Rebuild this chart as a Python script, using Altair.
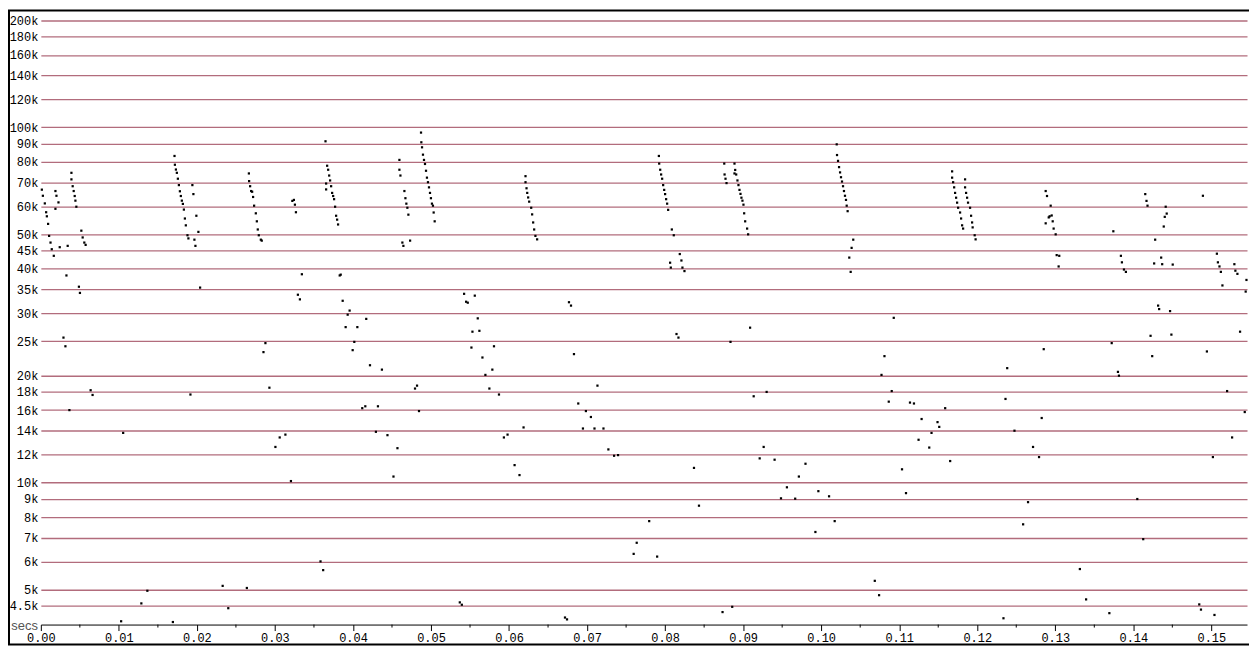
import altair as alt
import pandas as pd

# ---- data (seconds, Hz) ----
secs_0 = [0.00013, 0.00026, 0.00051, 0.00068, 0.00077, 0.00093, 0.00106, 0.00124, 0.00140, 0.00166,
          0.00187, 0.00200, 0.00226, 0.00187, 0.00242, 0.00328, 0.00344, 0.00392, 0.00392, 0.00408,
          0.00421, 0.00434, 0.00443, 0.00455, 0.00519, 0.00536, 0.00557, 0.00574, 0.00488, 0.00501,
          0.00290, 0.00315, 0.00366, 0.00638, 0.00663, 0.01055, 0.01029, 0.01288, 0.01365, 0.01692,
          0.01917, 0.02330, 0.02402, 0.02640, 0.02878, 0.02853, 0.02929, 0.03006, 0.03061, 0.03134,
          0.03205]
hz_0 = [66800, 64200, 61100, 57700, 56200, 53500, 49500, 47400, 45400, 43500,
        66200, 64200, 61500, 59000, 46000, 38300, 46400, 74500, 71400, 68300,
        66200, 64100, 62200, 59800, 51200, 49000, 47400, 46700, 35600, 34200,
        25600, 24200, 16000, 18200, 17650, 13800, 4070, 4570, 4960, 4050,
        17700, 5120, 4430, 5050, 24700, 23300, 18500, 12600, 13400, 13650,
        10100]

secs_1 = [0.01713, 0.01718, 0.01731, 0.01743, 0.01756, 0.01769, 0.01782, 0.01794, 0.01807, 0.01820,
          0.01833, 0.01846, 0.01858, 0.01879, 0.01891, 0.01942, 0.01955, 0.01968, 0.01981, 0.01993,
          0.02019, 0.02041,
          0.02666, 0.02669, 0.02682, 0.02695, 0.02708, 0.02720, 0.02733, 0.02755, 0.02768, 0.02780,
          0.02793, 0.02819, 0.02831,
          0.03223, 0.03243, 0.03256, 0.03269, 0.03294, 0.03320, 0.03345,
          0.03648, 0.03669, 0.03682, 0.03695, 0.03707, 0.03656, 0.03720, 0.03656, 0.03733, 0.03746,
          0.03758, 0.03771, 0.03784, 0.03797, 0.03809, 0.03830, 0.03843, 0.03868, 0.03957, 0.03932,
          0.04170, 0.03906, 0.04056]
hz_1 = [83100, 78500, 76100, 74500, 71700, 68800, 66100, 64100, 62200, 60900,
        58700, 55400, 53000, 49700, 48700, 68800, 64900, 48300, 46400, 56400,
        50800, 35400,
        74200, 70600, 68300, 66200, 65900, 63700, 60200, 57300, 54400, 51600,
        49700, 48300, 48000,
        62100, 62500, 60600, 57700, 33800, 32800, 38600,
        91400, 78000, 76000, 73200, 70900, 69500, 68300, 66900, 65400, 64100,
        62800, 59800, 56400, 55000, 53300, 38300, 38500, 32500, 30500, 29700,
        28900, 27400, 27400]

secs_2 = [0.04017, 0.03996, 0.04218, 0.04371, 0.04119, 0.04158, 0.04320, 0.04294, 0.04442, 0.04570,
          0.04519, 0.04795, 0.04821, 0.04846, 0.03584, 0.03618, 0.05369, 0.05395, 0.05531, 0.05620,
          0.05518, 0.05807, 0.05659, 0.05697, 0.05786, 0.05748, 0.05871, 0.06186, 0.05934, 0.05981,
          0.06071, 0.06134, 0.06717, 0.06743, 0.06832, 0.07133, 0.06887, 0.06985, 0.07049, 0.06947,
          0.07095, 0.07210, 0.07273, 0.07346, 0.07397,
          0.04595, 0.04595, 0.04608, 0.04659, 0.04672, 0.04684, 0.04697, 0.04710, 0.04633, 0.04646,
          0.04732,
          0.04872, 0.04876, 0.04885, 0.04897, 0.04910, 0.04923, 0.04936, 0.04948, 0.04961, 0.04974,
          0.04987, 0.04999, 0.05012, 0.05025, 0.05034, 0.05047,
          0.05424, 0.05450, 0.05471, 0.05561, 0.05599,
          0.06211, 0.06211, 0.06224, 0.06233, 0.06245, 0.06258, 0.06284, 0.06296, 0.06309, 0.06322,
          0.06338, 0.06360, 0.06768, 0.06794]
hz_2 = [24900, 23600, 21400, 20800, 16200, 16400, 16400, 13900, 13600, 12500,
        10400, 18400, 18750, 15900, 6000, 5670, 4600, 4530, 26600, 26750,
        24000, 24200, 22500, 20100, 20800, 18400, 17700, 14300, 13400, 13650,
        11200, 10500, 4170, 4120, 23000, 18750, 16700, 15900, 15300, 14200,
        14200, 14200, 12400, 11900, 11950,
        81000, 76000, 73200, 66200, 63200, 61000, 59400, 56800, 47400, 46400,
        48000,
        96700, 90800, 87900, 83800, 81000, 78900, 75500, 72200, 70100, 67800,
        65400, 63200, 61000, 60200, 57600, 54400,
        34000, 32300, 32100, 33600, 29000,
        72900, 70100, 67400, 65400, 63500, 61800, 59400, 56900, 54000, 51600,
        49500, 48400, 32200, 31500]

secs_3 = [0.07920, 0.07924, 0.07937, 0.07949, 0.07962, 0.07975, 0.07988, 0.08000, 0.08013, 0.08026,
          0.08039, 0.08086, 0.08111, 0.08188, 0.08209, 0.08064, 0.08073, 0.08222, 0.08248,
          0.08758, 0.08762, 0.08774, 0.08787, 0.08889, 0.08898, 0.08889, 0.08911, 0.08927, 0.08940,
          0.08953, 0.08966, 0.08978, 0.08991, 0.09004, 0.09013, 0.09026, 0.09051, 0.09064, 0.09089,
          0.10199, 0.10203, 0.10216, 0.10229, 0.10242, 0.10254, 0.10267, 0.10280, 0.10292, 0.10305,
          0.10318, 0.10327, 0.10339, 0.10411, 0.10390, 0.10360, 0.10378, 0.10930,
          0.08146, 0.08171, 0.08838, 0.08370, 0.08434, 0.07796, 0.07636, 0.07597, 0.07898, 0.08736,
          0.08860, 0.09135, 0.09301, 0.09263, 0.09212, 0.09403, 0.09799, 0.09714, 0.09561, 0.09485,
          0.09667, 0.09964, 0.10101, 0.09926, 0.10173, 0.10687, 0.10742, 0.10811, 0.10773, 0.10904,
          0.10866, 0.11138, 0.11189, 0.11287, 0.11414, 0.11248, 0.11385, 0.11036, 0.11087]
hz_3 = [83100, 79100, 76000, 73700, 71700, 68800, 66700, 64900, 62800, 61000,
        58600, 51600, 49700, 44000, 42200, 41600, 40300, 40300, 39400,
        79100, 73700, 71700, 69700, 79100, 75900, 74200, 73700, 70900, 68800,
        66700, 65000, 63400, 62200, 60600, 57300, 54400, 51900, 50000, 27300,
        89600, 83600, 80500, 77300, 74700, 72400, 70400, 68300, 66200, 64200,
        62500, 60200, 58100, 48300, 45800, 43000, 39200, 29100,
        26200, 25600, 24900, 11000, 8610, 7790, 6770, 6300, 6190, 4320,
        4470, 17500, 18000, 12600, 11700, 11600, 11300, 10400, 9700, 9030,
        9010, 9460, 9150, 7260, 7790, 5290, 4820, 22700, 20100, 18100,
        16900, 16800, 16700, 15100, 13800, 13200, 12550, 10900, 9340]

secs_4 = [0.11678, 0.11678, 0.11691, 0.11704, 0.11716, 0.11729, 0.11742, 0.11755, 0.11780, 0.11793,
          0.11806, 0.11819, 0.11844, 0.11844, 0.11857, 0.11870, 0.11882, 0.11908, 0.11921, 0.11934,
          0.11941, 0.11967, 0.11979,
          0.12877, 0.12894, 0.12941, 0.12928, 0.12954, 0.12916, 0.12967, 0.12877, 0.12979, 0.13005,
          0.13018, 0.13051, 0.13043,
          0.13744, 0.13841, 0.13854, 0.13880, 0.13905,
          0.14153, 0.14169, 0.14182, 0.14415, 0.14428, 0.14403, 0.14390, 0.14280, 0.14357, 0.14267,
          0.14370, 0.14505, 0.14318, 0.14331, 0.14471,
          0.14892, 0.15071, 0.15084, 0.15104, 0.15122, 0.15142, 0.15295, 0.15308, 0.15334, 0.15450,
          0.15440,
          0.11491, 0.11513, 0.11589, 0.11653, 0.12384, 0.12362, 0.12477, 0.12651, 0.12588, 0.12336,
          0.12852, 0.12826, 0.12715, 0.12792, 0.13315, 0.13395, 0.13693, 0.13723, 0.13803, 0.13816,
          0.14051, 0.14127, 0.14221, 0.14242, 0.14488, 0.14845, 0.14867, 0.15040, 0.14943, 0.15368,
          0.15202, 0.15428, 0.15266, 0.15020]
hz_4 = [75200, 72200, 70100, 67800, 65400, 63400, 61400, 59400, 57600, 55400,
        53000, 51900, 71400, 67800, 65400, 63400, 61400, 59400, 56400, 54000,
        52300, 49700, 48400,
        66200, 64100, 60200, 56200, 56500, 55800, 54400, 53700, 51900, 50000,
        43700, 43500, 40600,
        51000, 43500, 41700, 39800, 39200,
        64900, 62100, 60200, 59800, 57200, 56000, 52600, 48300, 43000, 41400,
        41200, 41100, 31500, 30800, 30400,
        64200, 44100, 41700, 40600, 39200, 35900, 41200, 39500, 38700, 37200,
        34500,
        14800, 14350, 16200, 11500, 21000, 17200, 14000, 8810, 7630, 4150,
        23750, 15200, 12600, 11800, 5710, 4690, 4290, 24700, 20500, 20000,
        8990, 6930, 25900, 22700, 26100, 4540, 4390, 4240, 23400, 26600,
        18100, 15800, 13400, 11800]

y_ticks = [4500, 5000, 6000, 7000, 8000, 9000, 10000, 12000, 14000, 16000, 18000, 20000,
           25000, 30000, 35000, 40000, 45000, 50000, 60000, 70000, 80000, 90000, 100000,
           120000, 140000, 160000, 180000, 200000]
x_ticks = [0.00, 0.01, 0.02, 0.03, 0.04, 0.05, 0.06, 0.07, 0.08, 0.09, 0.10, 0.11, 0.12,
           0.13, 0.14, 0.15]
x_minor = [0.005, 0.015, 0.025, 0.035, 0.045, 0.055, 0.065, 0.075, 0.085, 0.095, 0.105,
           0.115, 0.125, 0.135, 0.145]

secs = secs_0 + secs_1 + secs_2 + secs_3 + secs_4
hz = hz_0 + hz_1 + hz_2 + hz_3 + hz_4
assert len(secs) == len(hz), (len(secs), len(hz))
df = pd.DataFrame({"secs": secs, "hz": hz})

W, H = 1212, 616
x_scale = alt.Scale(domain=[0, 0.15457], nice=False, zero=False)
y_scale = alt.Scale(type="log", domain=[3984, 211960], nice=False)
MONO = "Liberation Mono"

x_axis = alt.Axis(values=x_ticks, format=".2f", title=None, grid=False,
                  tickSize=6, tickColor="black", tickWidth=1,
                  domainColor="black", domainWidth=1,
                  labelFont=MONO, labelFontSize=12, labelColor="black",
                  labelPadding=2, labelFlush=False, labelOverlap=False)

points = alt.Chart(df).mark_square(size=5, color="black", opacity=1).encode(
    x=alt.X("secs:Q", scale=x_scale, axis=x_axis),
    y=alt.Y("hz:Q", scale=y_scale,
            axis=alt.Axis(values=y_ticks, labelExpr="datum.value / 1000 + 'k'", title=None,
                          grid=True, gridColor="#b26c7c", gridWidth=1.3, gridOpacity=1,
                          domain=False, ticks=False, labelPadding=3,
                          labelFont=MONO, labelFontSize=12, labelColor="black",
                          labelOverlap=False)),
)

minor = alt.Chart(pd.DataFrame({"t": x_minor})).mark_rule(color="black", strokeWidth=1).encode(
    x=alt.X("t:Q", scale=x_scale, axis=x_axis),
    y=alt.value(H),
    y2=alt.value(H + 3),
)

frame = alt.Chart(alt.Data(values=[{}])).mark_rect(
    fillOpacity=0, stroke="black", strokeWidth=2
).encode(
    x=alt.value(-32), x2=alt.value(W + 4), y=alt.value(-1), y2=alt.value(H + 20)
)

secs_label = alt.Chart(alt.Data(values=[{}])).mark_text(
    text="secs", align="right", baseline="middle", font="Liberation Sans",
    fontSize=13, color="#555555"
).encode(x=alt.value(-3), y=alt.value(H + 1))

chart = alt.layer(points, minor, frame, secs_label).properties(
    width=W, height=H,
    autosize=alt.AutoSizeParams(type="none"),
    padding={"left": 33, "top": 2, "right": 2, "bottom": 21},
    background="white",
).configure_view(strokeWidth=0)

chart.save("out.html", embed_options={"renderer": "svg", "actions": False})
